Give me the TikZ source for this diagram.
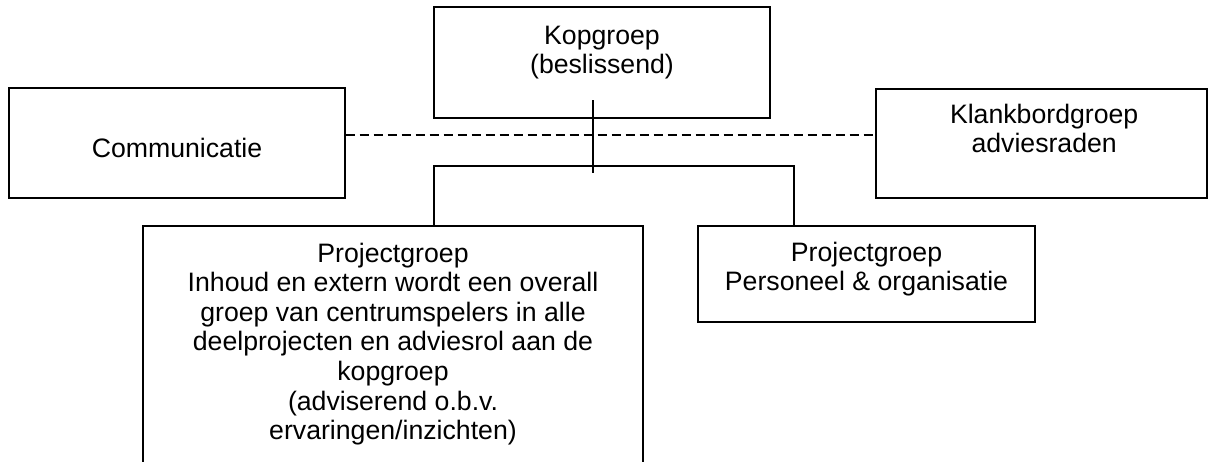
\documentclass[tikz,border=0pt]{standalone}
\usepackage{fontspec}
\setmainfont{Liberation Sans}
\usetikzlibrary{positioning}
\tikzset{
  blok/.style={draw, inner sep=0pt},
  tekst/.style={align=center, inner sep=0pt, font=\fontsize{20}{22.2}\selectfont},
}
\newcommand\eersteregel{\rule{0pt}{15pt}}

\begin{document}
\begin{tikzpicture}[x=0.75pt, y=-0.75pt, line width=1.1pt]
\clip (0,0) rectangle (1210,461);
\node[blok, minimum width=252pt, minimum height=83.25pt] (kop) at (602,62.5) {};
\node[blok, minimum width=252pt, minimum height=82.5pt] (comm) at (177,143) {};
\node[blok, minimum width=248.25pt, minimum height=81.75pt] (klank) at (1041.5,143.5) {};
\node[blok, minimum width=375pt, minimum height=198pt] (projinh) at (393,358) {};
\node[blok, minimum width=252.75pt, minimum height=72pt] (projpo) at (866.5,274) {};
\node[tekst, below=12.75pt of kop.north] (kopt) {\eersteregel Kopgroep\\(beslissend)};
\node[tekst, below=36.75pt of comm.north] (commt) {\eersteregel Communicatie};
\node[tekst, below=10.5pt of klank.north, xshift=2pt] (klankt) {\eersteregel Klankbordgroep\\adviesraden};
\node[tekst, below=12pt of projinh.north] (projinht) {\eersteregel Projectgroep\\Inhoud en extern wordt een overall\\groep van centrumspelers in alle\\deelprojecten en adviesrol aan de\\kopgroep\\(adviserend o.b.v.\\ervaringen/inzichten)};
\node[tekst, below=11.25pt of projpo.north] (projpot) {\eersteregel Projectgroep\\Personeel \& organisatie};
\coordinate (stamtop) at (593,100);
\coordinate (stamvoet) at (593,173);
\coordinate (takl) at (434,166);
\coordinate (takr) at (794,166);
\coordinate (streep) at (600,135);
\draw (stamtop) -- (stamvoet);
\draw (projinh.north -| takl) -- (takl) -- (takr) -- (projpo.north -| takr);
\draw[dash pattern=on 6.75pt off 3.75pt] (comm.east |- streep) -- (klank.west |- streep);
\end{tikzpicture}
\end{document}
